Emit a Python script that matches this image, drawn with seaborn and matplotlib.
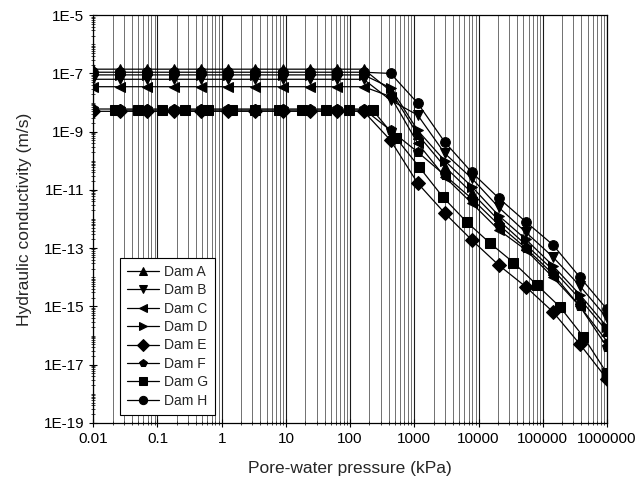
import numpy as np
import pandas as pd
import seaborn as sns
import matplotlib
matplotlib.use("Agg")
import matplotlib.pyplot as plt
from matplotlib.ticker import LogLocator, FixedLocator, FixedFormatter, NullFormatter

# pore-water pressure (kPa) where most dams were evaluated
pressure = [0.01, 0.0264, 0.0695, 0.183, 0.483, 1.27, 3.36, 8.86, 23.4, 61.6,
            162, 428, 1129, 2976, 7848, 20691, 54556, 143845, 379269, 1000000]

# hydraulic conductivity (m/s)
dam_a = [1.4e-7] * 11 + [2.5e-8, 8e-10, 6.3e-11, 8e-12, 9e-13, 1.3e-13, 1.8e-14, 1.8e-15, 1.4e-16]
dam_b = [6.3e-8] * 11 + [1.2e-8, 3.7e-9, 1.8e-10, 2.5e-11, 2.5e-12, 3.5e-13, 5e-14, 5e-15, 4e-16]
dam_c = [3.5e-8] * 11 + [1.6e-8, 4e-10, 2.8e-11, 3.5e-12, 4.2e-13, 8.7e-14, 1e-14, 1e-15, 6.3e-17]
dam_d = [8.9e-8] * 11 + [3.2e-8, 1.1e-9, 1e-10, 1.3e-11, 1.3e-12, 2e-13, 2.5e-14, 2.5e-15, 2e-16]
dam_e = [5e-9] * 11 + [5e-10, 1.7e-11, 1.6e-12, 1.9e-13, 2.6e-14, 4.7e-15, 6.5e-16, 5e-17, 3.2e-18]
dam_f = [6e-9] * 11 + [1.1e-9, 2e-10, 3.2e-11, 5e-12, 6.3e-13, 1e-13, 1.3e-14, 1e-15, 4e-17]
dam_h = [1.1e-7] * 11 + [1e-7, 9.5e-9, 4.4e-10, 4e-11, 5.2e-12, 8e-13, 1.3e-13, 1e-14, 8e-16]

# Dam G was evaluated at its own set of pressures
pressure_g = [0.0216, 0.05, 0.116, 0.27, 0.62, 1.45, 3.35, 7.8, 18, 42, 97, 224,
              520, 1200, 2800, 6500, 15000, 35000, 80000, 186000, 430000, 1000000]
dam_g = [5.5e-9] * 12 + [6e-10, 6e-11, 5.6e-12, 8e-13, 1.5e-13, 3.2e-14, 5.6e-15,
                         9.5e-16, 9e-17, 5e-18]

dams = ["Dam A", "Dam B", "Dam C", "Dam D", "Dam E", "Dam F", "Dam G", "Dam H"]
markers = ["^", "v", "<", ">", "D", "p", "s", "o"]

series = {"Dam A": (pressure, dam_a), "Dam B": (pressure, dam_b),
          "Dam C": (pressure, dam_c), "Dam D": (pressure, dam_d),
          "Dam E": (pressure, dam_e), "Dam F": (pressure, dam_f),
          "Dam G": (pressure_g, dam_g), "Dam H": (pressure, dam_h)}

frames = []
for name in dams:
    x, y = series[name]
    frames.append(pd.DataFrame({"pressure": x, "k": y, "Dam": name}))
df = pd.concat(frames, ignore_index=True)

sns.set_style("ticks")
plt.rcParams["font.family"] = ["Liberation Sans", "DejaVu Sans"]

fig = plt.figure(figsize=(6.43, 4.9), dpi=100)
ax = fig.add_axes([0.145, 0.137, 0.799, 0.832])
ax.set_xscale("log")
ax.set_yscale("log")

sns.lineplot(data=df, x="pressure", y="k", style="Dam", style_order=dams,
             markers=markers, dashes=False, color="k", linewidth=0.9,
             markersize=7, markeredgecolor="k", errorbar=None, ax=ax)

ax.set_xlim(0.01, 1e6)
ax.set_ylim(1e-19, 1e-5)

xticks = [0.01, 0.1, 1, 10, 100, 1000, 10000, 100000, 1000000]
xtick_labels = ["0.01", "0.1", "1", "10", "100", "1000", "10000", "100000", "1000000"]
ax.xaxis.set_major_locator(FixedLocator(xticks))
ax.xaxis.set_major_formatter(FixedFormatter(xtick_labels))
ax.xaxis.set_minor_locator(LogLocator(base=10, subs=np.arange(2, 10), numticks=100))
ax.xaxis.set_minor_formatter(NullFormatter())

yticks = [1e-19, 1e-17, 1e-15, 1e-13, 1e-11, 1e-9, 1e-7, 1e-5]
ytick_labels = ["1E-19", "1E-17", "1E-15", "1E-13", "1E-11", "1E-9", "1E-7", "1E-5"]
ax.yaxis.set_major_locator(FixedLocator(yticks))
ax.yaxis.set_major_formatter(FixedFormatter(ytick_labels))
ax.yaxis.set_minor_locator(LogLocator(base=10, subs=np.arange(1, 10), numticks=100))
ax.yaxis.set_minor_formatter(NullFormatter())

ax.grid(True, which="major", axis="x", color="0.1", linewidth=0.8)
ax.grid(True, which="minor", axis="x", color="0.35", linewidth=0.6)
ax.grid(False, axis="y")

ax.tick_params(which="major", direction="inout", length=6, width=0.8, labelsize=11, colors="k")
ax.tick_params(which="minor", direction="inout", length=3, width=0.6)
for s in ax.spines.values():
    s.set_color("k")
    s.set_linewidth(0.9)

ax.set_xlabel("Pore-water pressure (kPa)", fontsize=12.5, labelpad=11)
ax.set_ylabel("Hydraulic conductivity (m/s)", fontsize=12.5, labelpad=8)

handles, labels = ax.get_legend_handles_labels()
for h in handles:
    h.set_color("k")
    h.set_markerfacecolor("k")
    h.set_markeredgecolor("k")
    h.set_linewidth(0.9)
leg = ax.legend(handles, labels, loc="lower left", bbox_to_anchor=(0.053, 0.02),
                borderaxespad=0, frameon=True, fancybox=False, edgecolor="k",
                framealpha=1, fontsize=10, handlelength=2.3, labelspacing=0.32,
                borderpad=0.5, handletextpad=0.3, markerscale=0.85)
leg.get_frame().set_linewidth(0.8)

fig.savefig("out.png", dpi=100, facecolor="white")
